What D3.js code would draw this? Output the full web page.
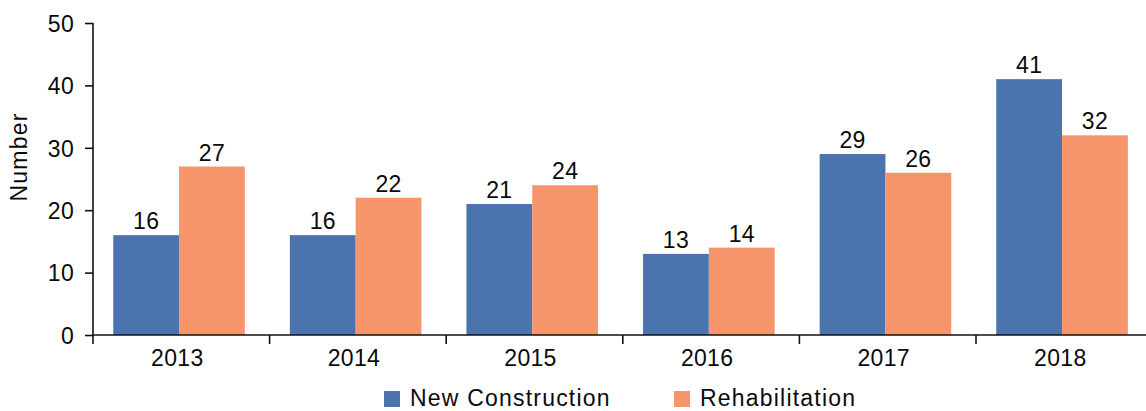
<!DOCTYPE html>
<html>
<head>
<meta charset="utf-8">
<script src="https://cdn.jsdelivr.net/npm/d3@7"></script>
<style>
  html, body { margin: 0; padding: 0; background: #fff; }
  svg text { font-family: "Liberation Sans", Arial, sans-serif; fill: #0a0a0a; }
</style>
</head>
<body>
<svg id="chart" width="1146" height="411"></svg>
<script>
const years = ["2013", "2014", "2015", "2016", "2017", "2018"];
const seriesNames = ["New Construction", "Rehabilitation"];
const newConstruction = [16, 16, 21, 13, 29, 41];
const rehabilitation = [27, 22, 24, 14, 26, 32];
const yTicks = [0, 10, 20, 30, 40, 50];
const colors = ["#4b74ae", "#f6956b"];

const seriesValues = [newConstruction, rehabilitation];
const svg = d3.select("#chart");
const fontSize = 23;
const ls = "0.3px";

const x0 = d3.scaleBand().domain(years).range([93, 93 + 6 * 176.6]).padding(0);
const x1 = d3.scaleBand().domain(seriesNames).range([0, x0.bandwidth()])
  .paddingInner(0).paddingOuter(0.342).align(0.45);
const y = d3.scaleLinear().domain([0, 50]).range([335, 23]);

// bars
const groups = svg.append("g").selectAll("g").data(years).join("g")
  .attr("transform", d => `translate(${x0(d)},0)`);
groups.selectAll("rect")
  .data((d, i) => seriesNames.map((s, k) => ({ s, v: seriesValues[k][i], k })))
  .join("rect")
  .attr("x", d => x1(d.s))
  .attr("width", x1.bandwidth())
  .attr("y", d => y(d.v))
  .attr("height", d => y(0) - y(d.v))
  .attr("fill", d => colors[d.k]);
groups.selectAll("text.lbl")
  .data((d, i) => seriesNames.map((s, k) => ({ s, v: seriesValues[k][i], k })))
  .join("text")
  .attr("class", "lbl")
  .attr("x", d => x1(d.s) + x1.bandwidth() / 2)
  .attr("y", d => y(d.v) - 6)
  .attr("text-anchor", "middle")
  .style("font-size", fontSize + "px")
  .style("letter-spacing", ls)
  .text(d => d.v);

// y axis
const yAxis = svg.append("g").attr("transform", "translate(93,0)")
  .call(d3.axisLeft(y).tickValues(yTicks).tickSize(8).tickPadding(11));
yAxis.select(".domain").attr("stroke", "#111").attr("stroke-width", 1.6).attr("d", `M0,${y(50)}V${y(0)}`);
yAxis.selectAll(".tick line").attr("stroke", "#111").attr("stroke-width", 1.6);
yAxis.selectAll(".tick text").style("font-size", fontSize + "px").style("letter-spacing", ls)
  .attr("font-family", null).attr("fill", "#0a0a0a").attr("dy", "0.36em");

// x axis
const xAxis = svg.append("g").attr("transform", `translate(0,${y(0)})`);
xAxis.append("line").attr("x1", 93).attr("x2", 1146).attr("y1", 0).attr("y2", 0)
  .attr("stroke", "#111").attr("stroke-width", 1.6);
xAxis.selectAll("line.tk").data(years).join("line").attr("class", "tk")
  .attr("x1", d => x0(d)).attr("x2", d => x0(d)).attr("y1", 0).attr("y2", 9)
  .attr("stroke", "#111").attr("stroke-width", 1.6);
xAxis.selectAll("text").data(years).join("text")
  .attr("x", d => x0(d) + x0.bandwidth() / 2 - 4)
  .attr("y", 31)
  .attr("text-anchor", "middle")
  .style("font-size", fontSize + "px")
  .style("letter-spacing", ls)
  .text(d => d);

// y label
svg.append("text")
  .attr("transform", "translate(27,157) rotate(-90)")
  .attr("text-anchor", "middle")
  .style("font-size", fontSize + "px")
  .style("letter-spacing", "1.2px")
  .text("Number");

// legend
const legendX = [384, 674];
const legend = svg.append("g").selectAll("g").data(seriesNames).join("g")
  .attr("transform", (d, i) => `translate(${legendX[i]},391)`);
legend.append("rect").attr("width", 16).attr("height", 16).attr("fill", (d, i) => colors[i]);
legend.append("text").attr("x", 26).attr("y", 15)
  .style("font-size", fontSize + "px")
  .style("letter-spacing", "1.2px")
  .text(d => d);
</script>
</body>
</html>
